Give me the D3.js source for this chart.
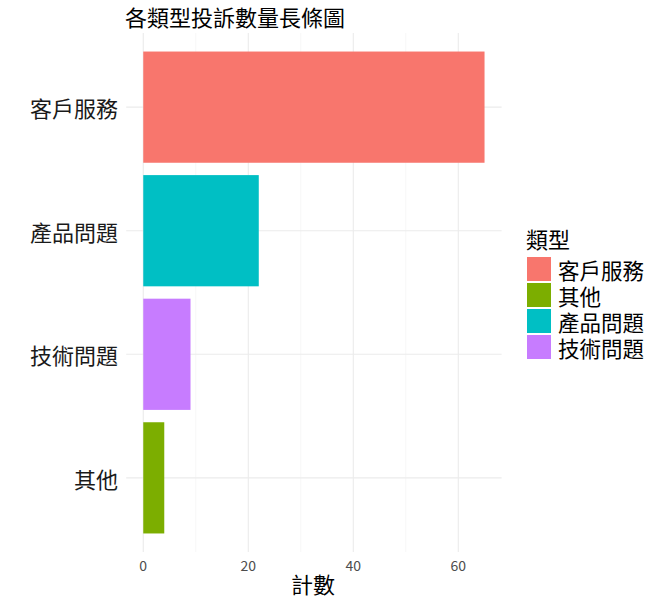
<!DOCTYPE html>
<html><head><meta charset="utf-8">
<script src="https://cdn.jsdelivr.net/npm/d3@7"></script>
<style>body{margin:0;background:#fff;} svg{display:block;}</style>
</head><body>
<script>
const categories = ["客戶服務", "產品問題", "技術問題", "其他"];
const counts = [65, 22, 9, 4];
const legendOrder = ["客戶服務", "其他", "產品問題", "技術問題"];
const legendColors = ["#F8766D", "#7CAE00", "#00BFC4", "#C77CFF"];
const xTicks = [0, 20, 40, 60];
const xMinor = [10, 30, 50];
const title = "各類型投訴數量長條圖";
const xTitle = "計數";
const legendTitle = "類型";

const W = 662, H = 598;
const font = "'Noto Sans CJK TC','Noto Sans CJK SC',sans-serif";
const svg = d3.select("body").append("svg").attr("width", W).attr("height", H);
svg.append("rect").attr("width", W).attr("height", H).attr("fill", "#fff");

const panel = {left: 126.2, right: 501.6, top: 33, bottom: 552};
const maxV = d3.max(counts);
const x = d3.scaleLinear().domain([-0.05 * maxV, 1.05 * maxV]).range([panel.left, panel.right]);
// discrete scale expansion of 0.6 on each side, bar width 0.9
const n = categories.length;
const yLin = d3.scaleLinear().domain([0.4, n + 0.6]).range([panel.top, panel.bottom]);
const yPos = c => yLin(categories.indexOf(c) + 1);
const bandPx = yLin(1) - yLin(0);
const color = d3.scaleOrdinal().domain(legendOrder).range(legendColors);

const g = svg.append("g");
g.selectAll(".minor").data(xMinor).enter().append("line")
  .attr("x1", d => x(d)).attr("x2", d => x(d))
  .attr("y1", panel.top).attr("y2", panel.bottom)
  .attr("stroke", "#F2F2F2").attr("stroke-width", 0.6);
g.selectAll(".majx").data(xTicks).enter().append("line")
  .attr("x1", d => x(d)).attr("x2", d => x(d))
  .attr("y1", panel.top).attr("y2", panel.bottom)
  .attr("stroke", "#EBEBEB").attr("stroke-width", 1.1);
g.selectAll(".majy").data(categories).enter().append("line")
  .attr("x1", panel.left).attr("x2", panel.right)
  .attr("y1", d => yPos(d)).attr("y2", d => yPos(d))
  .attr("stroke", "#EBEBEB").attr("stroke-width", 1.1);

g.selectAll(".bar").data(categories).enter().append("rect")
  .attr("x", x(0))
  .attr("y", d => yPos(d) - bandPx * 0.45)
  .attr("width", (d, i) => x(counts[i]) - x(0))
  .attr("height", bandPx * 0.9)
  .attr("fill", d => color(d));

g.selectAll(".ylab").data(categories).enter().append("text")
  .attr("x", 118).attr("y", d => yPos(d))
  .attr("text-anchor", "end").attr("dominant-baseline", "central")
  .attr("font-family", font).attr("font-size", 22).attr("fill", "#1a1a1a")
  .text(d => d);

g.selectAll(".xlab").data(xTicks).enter().append("text")
  .attr("x", d => x(d)).attr("y", 565)
  .attr("text-anchor", "middle").attr("dominant-baseline", "central")
  .attr("font-family", font).attr("font-size", 14).attr("fill", "#4D4D4D")
  .text(d => d);

svg.append("text").attr("x", 313).attr("y", 583)
  .attr("text-anchor", "middle").attr("dominant-baseline", "central")
  .attr("font-family", font).attr("font-size", 22).attr("fill", "#000")
  .text(xTitle);

svg.append("text").attr("x", 125).attr("y", 16)
  .attr("dominant-baseline", "central")
  .attr("font-family", font).attr("font-size", 22).attr("fill", "#000")
  .text(title);

const lg = svg.append("g");
lg.append("text").attr("x", 526).attr("y", 238)
  .attr("dominant-baseline", "central")
  .attr("font-family", font).attr("font-size", 22).attr("fill", "#000")
  .text(legendTitle);
legendOrder.forEach((c, i) => {
  const y0 = 257 + i * 26;
  lg.append("rect").attr("x", 527).attr("y", y0).attr("width", 24).attr("height", 24)
    .attr("fill", color(c));
  lg.append("text").attr("x", 558).attr("y", y0 + 12)
    .attr("dominant-baseline", "central")
    .attr("font-family", font).attr("font-size", 21.5).attr("fill", "#000")
    .text(c);
});
</script>
</body></html>
